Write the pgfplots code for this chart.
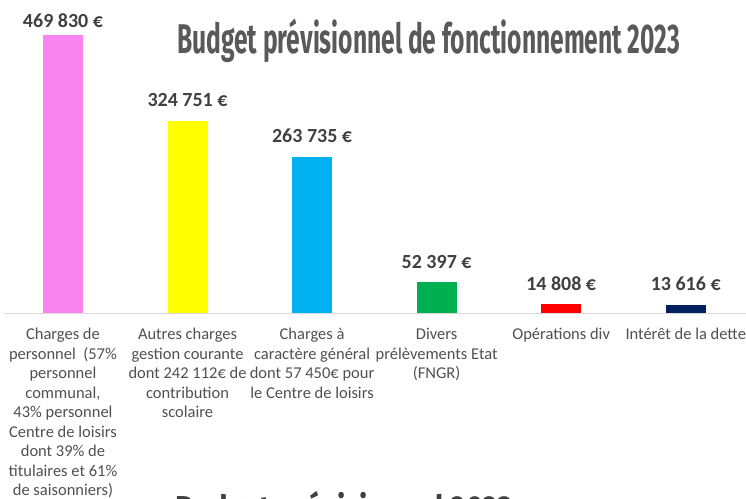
\documentclass[border=0pt]{standalone}
\usepackage{pgfplots}
\pgfplotsset{compat=1.18}
\usepackage{fontspec}
\setmainfont{Carlito}
\newfontfamily\titlefont{Fira Sans}
\definecolor{cPink}{HTML}{F885EE}
\definecolor{cYellow}{HTML}{FFFF00}
\definecolor{cBlue}{HTML}{00B0F0}
\definecolor{cGreen}{HTML}{00B050}
\definecolor{cRed}{HTML}{FF0000}
\definecolor{cNavy}{HTML}{002060}
\definecolor{cTitle}{HTML}{595959}
\definecolor{cVal}{HTML}{404040}
\definecolor{cCat}{HTML}{505050}
\definecolor{cAxis}{HTML}{D9D9D9}
\newlength\tw
\newlength\twb
\newcommand\titleA{\titlefont\bfseries\fontsize{41.5}{41.5}\selectfont Budget prévisionnel de fonctionnement 2023}
\newcommand\titleB{\titlefont\bfseries\fontsize{36}{36}\selectfont Budget prévisionnel 2023}
\begin{document}
\settowidth{\tw}{\titleA}%
\settowidth{\twb}{\titleB}%
\pgfmathsetmacro\sx{503/\tw}%
\pgfmathsetmacro\sxb{338/\twb}%
\begin{tikzpicture}[x=1pt,y=1pt]
\useasboundingbox (0,0) rectangle (746,-498);
\clip (0,0) rectangle (746,-498);
\draw[cAxis, line width=1pt] (4,-313) -- (746,-313);
\begin{axis}[
  at={(0.7pt,-313pt)}, anchor=south west,
  scale only axis, width=747.3pt, height=278pt,
  xmin=-0.5, xmax=5.5, ymin=0, ymax=469830,
  clip=false,
  ybar, bar width=40pt, bar shift=0pt,
  axis line style={draw=none},
  major tick length=0pt,
  ytick=\empty,
  xtick={0,1,2,3,4,5},
  xticklabels={
    {Charges de\\personnel\ \ (57\%\\personnel\\communal,\\43\% personnel\\Centre de loisirs\\dont 39\% de\\titulaires et 61\%\\de saisonniers)},
    {Autres charges\\gestion courante\\dont 242 112€ de\\contribution\\scolaire},
    {Charges à\\caractère général\\dont 57 450€ pour\\le Centre de loisirs},
    {Divers\\prélèvements Etat\\(FNGR)},
    {Opérations div},
    {Intérêt de la dette}},
  xticklabel style={align=center, font=\fontsize{16.5}{19.5}\selectfont, text=cCat,
    inner sep=0pt, anchor=north, yshift=-15pt},
  nodes near coords style={font=\fontsize{20}{24}\selectfont\bfseries, text=cVal,
    anchor=base, inner sep=0pt, yshift=14pt},
]
\addplot[fill=cPink, draw=none, nodes near coords={469 830 €},
  nodes near coords style={yshift=-6.5pt}] coordinates {(0,469830)};
\addplot[fill=cYellow, draw=none, nodes near coords={324 751 €}] coordinates {(1,324751)};
\addplot[fill=cBlue, draw=none, nodes near coords={263 735 €}] coordinates {(2,263735)};
\addplot[fill=cGreen, draw=none, nodes near coords={52 397 €}] coordinates {(3,52397)};
\addplot[fill=cRed, draw=none, nodes near coords={14 808 €}] coordinates {(4,14808)};
\addplot[fill=cNavy, draw=none, nodes near coords={13 616 €}] coordinates {(5,13616)};
\end{axis}
\node[anchor=base west, inner sep=0pt, text=cTitle] at (177,-53)
  {\scalebox{\sx}[1]{\titleA}};
\node[anchor=base west, inner sep=0pt, text=cVal] at (175,-521)
  {\scalebox{\sxb}[1]{\titleB}};
\end{tikzpicture}
\end{document}
